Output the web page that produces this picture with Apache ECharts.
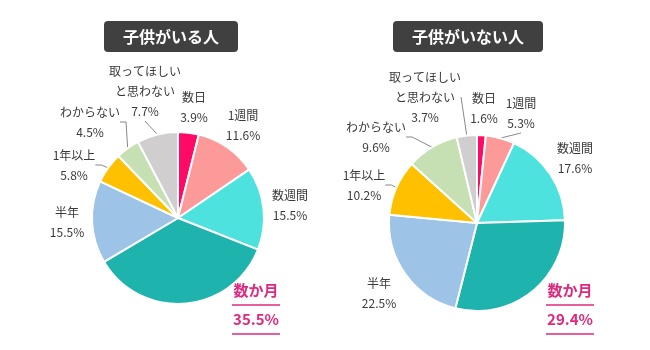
<!DOCTYPE html>
<html>
<head>
<meta charset="utf-8">
<script src="https://cdn.jsdelivr.net/npm/echarts@6/dist/echarts.min.js"></script>
<style>
  html, body { margin: 0; padding: 0; background: #fff; }
  #chart { width: 650px; height: 350px; }
</style>
</head>
<body>
<div id="chart"></div>
<script>
// 期間カテゴリ（12時から時計回り）
const categories = ['数日', '1週間', '数週間', '数か月', '半年', '1年以上', 'わからない', '取ってほしい\nと思わない'];
const withKids = [3.9, 11.6, 15.5, 35.5, 15.5, 5.8, 4.5, 7.7];
const withoutKids = [1.6, 5.3, 17.6, 29.4, 22.5, 10.2, 9.6, 3.7];
const titles = ['子供がいる人', '子供がいない人'];

const colors = ['#ff0a64', '#fc9a9a', '#4ee2df', '#1fb3ae', '#9dc3e6', '#ffc000', '#c6e0b4', '#d0cece'];
const pink = '#e0287d';
const font = '"Noto Sans CJK JP", "Noto Sans", sans-serif';

// ラベルの中心位置（見た目合わせ）
const labelPos = [
  [[194, 107], [243, 125], [290, 205], [256, 308], [67, 222], [74, 165], [90, 122], [145, 91]],
  [[484, 108], [521, 113], [575, 158], [570, 308], [379, 293], [364, 185], [376, 137], [425, 97]]
];
// 引き出し線を出すもの
const showLine = [
  [false, false, false, false, false, true, true, true],
  [false, true, false, false, false, true, true, true]
];

const buildData = (values, si) => {
  return values.map((v, i) => {
    const item = {
      name: categories[i],
      value: v,
      itemStyle: { color: colors[i] },
      labelLine: { show: showLine[si][i] }
    };
    // 上の2つは真っ直ぐな線
    if (i === 7 || (si === 1 && i === 1)) {
      item.labelLine.length = 4;
      item.labelLine.length2 = 0;
    }
    if (i === 3) {
      item.label = { formatter: '{big|{b}}\n{u| }\n{big|{c}%}\n{u| }' };
    }
    return item;
  });
};

const labelStyle = {
  show: true,
  position: 'outside',
  formatter: '{b}\n{c}%',
  fontFamily: font,
  fontSize: 12,
  lineHeight: 20,
  color: '#3a3a3a',
  align: 'center',
  rich: {
    big: { fontFamily: font, fontSize: 15, fontWeight: 'bold', color: pink, lineHeight: 23, align: 'center' },
    u: { width: 48, height: 1.5, backgroundColor: pink, lineHeight: 6, align: 'center' }
  }
};

const makeSeries = (values, si, center, radius) => ({
  type: 'pie',
  center: center,
  radius: radius,
  startAngle: 90,
  clockwise: true,
  data: buildData(values, si),
  itemStyle: { borderColor: '#fff', borderWidth: 2 },
  label: labelStyle,
  labelLine: { lineStyle: { color: '#888', width: 1 }, length: 8, length2: 6, smooth: false },
  labelLayout: (params) => {
    const p = labelPos[si][params.dataIndex];
    return { x: p[0], y: p[1], align: 'center', verticalAlign: 'middle' };
  },
  emphasis: { disabled: true },
  animation: false
});

const titleStyle = {
  color: '#fff',
  fontFamily: font,
  fontSize: 16,
  fontWeight: 'bold',
  lineHeight: 19
};

const chart = echarts.init(document.getElementById('chart'));
chart.setOption({
  animation: false,
  title: [
    { text: titles[0], left: 104, top: 21, backgroundColor: '#404040', borderRadius: 4, padding: [6, 19], textStyle: titleStyle },
    { text: titles[1], left: 393, top: 21, backgroundColor: '#404040', borderRadius: 4, padding: [6, 19], textStyle: titleStyle }
  ],
  series: [
    makeSeries(withKids, 0, [178, 218], 86),
    makeSeries(withoutKids, 1, [477, 223], 88)
  ]
});
</script>
</body>
</html>
